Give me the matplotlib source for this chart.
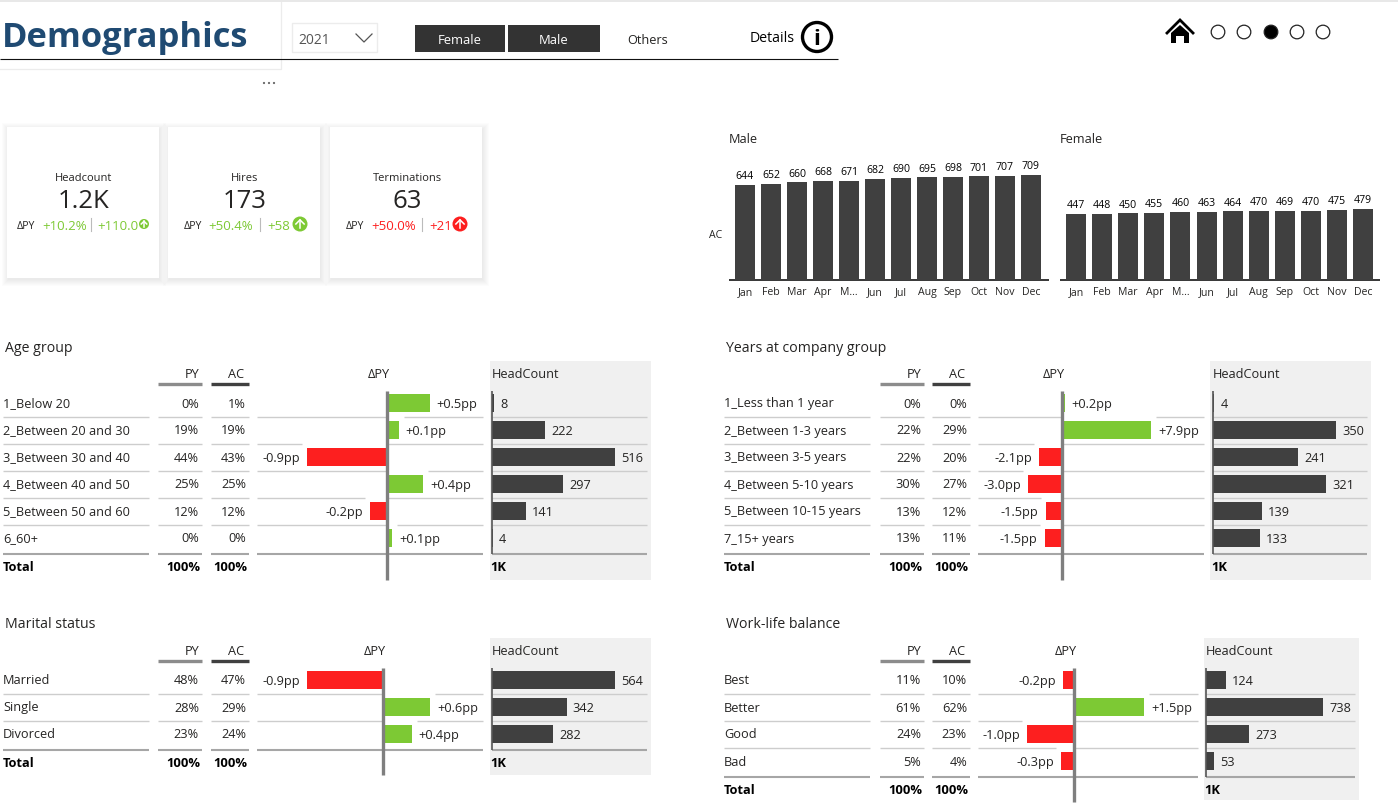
import matplotlib
matplotlib.use("Agg")
import matplotlib.pyplot as plt
from matplotlib.patches import Rectangle, Circle, Polygon

plt.rcParams["font.family"] = ["Open Sans", "DejaVu Sans"]

W, H = 1398, 811
TXT = "#252423"
GREEN = "#7dc934"
RED = "#fd1f1f"
DARK = "#404040"
GREY = "#8c8c8c"

months = ["Jan", "Feb", "Mar", "Apr", "M...", "Jun", "Jul", "Aug", "Sep", "Oct", "Nov", "Dec"]
male = [644, 652, 660, 668, 671, 682, 690, 695, 698, 701, 707, 709]
female = [447, 448, 450, 455, 460, 463, 464, 470, 469, 470, 475, 479]

kpi_names = ["Headcount", "Hires", "Terminations"]
kpi_values = ["1.2K", "173", "63"]
kpi_pct = ["+10.2%", "+50.4%", "+50.0%"]
kpi_abs = ["+110.0", "+58", "+21"]

age_labels = ["1_Below 20", "2_Between 20 and 30", "3_Between 30 and 40", "4_Between 40 and 50", "5_Between 50 and 60", "6_60+"]
age_py = ["0%", "19%", "44%", "25%", "12%", "0%"]
age_ac = ["1%", "19%", "43%", "25%", "12%", "0%"]
age_delta = [0.48, 0.13, -0.90, 0.41, -0.19, 0.06]
age_delta_txt = ["+0.5pp", "+0.1pp", "-0.9pp", "+0.4pp", "-0.2pp", "+0.1pp"]
age_head = [8, 222, 516, 297, 141, 4]

years_labels = ["1_Less than 1 year", "2_Between 1-3 years", "3_Between 3-5 years", "4_Between 5-10 years", "5_Between 10-15 years", "7_15+ years"]
years_py = ["0%", "22%", "22%", "30%", "13%", "13%"]
years_ac = ["0%", "29%", "20%", "27%", "12%", "11%"]
years_delta = [0.24, 7.9, -2.05, -3.0, -1.45, -1.55]
years_delta_txt = ["+0.2pp", "+7.9pp", "-2.1pp", "-3.0pp", "-1.5pp", "-1.5pp"]
years_head = [4, 350, 241, 321, 139, 133]

marital_labels = ["Married", "Single", "Divorced"]
marital_py = ["48%", "28%", "23%"]
marital_ac = ["47%", "29%", "24%"]
marital_delta = [-0.95, 0.59, 0.36]
marital_delta_txt = ["-0.9pp", "+0.6pp", "+0.4pp"]
marital_head = [564, 342, 282]

balance_labels = ["Best", "Better", "Good", "Bad"]
balance_py = ["11%", "61%", "24%", "5%"]
balance_ac = ["10%", "62%", "23%", "4%"]
balance_delta = [-0.24, 1.5, -1.0, -0.28]
balance_delta_txt = ["-0.2pp", "+1.5pp", "-1.0pp", "-0.3pp"]
balance_head = [124, 738, 273, 53]


fig = plt.figure(figsize=(W / 100, H / 100), dpi=100, facecolor="white")
bg = fig.add_axes([0, 0, 1, 1], zorder=0)
bg.set_xlim(0, W); bg.set_ylim(H, 0); bg.axis("off")
top = fig.add_axes([0, 0, 1, 1], zorder=5)
top.set_xlim(0, W); top.set_ylim(H, 0); top.axis("off")


def px_axes(x0, y0, x1, y1):
    ax = fig.add_axes([x0 / W, 1 - y1 / H, (x1 - x0) / W, (y1 - y0) / H], zorder=3)
    ax.patch.set_alpha(0)
    ax.axis("off")
    return ax


def hline(x0, x1, y, color="#c9c9c9", lw=1.0, axis=bg):
    axis.plot([x0, x1], [y, y], color=color, lw=lw, solid_capstyle="butt")


def put(x, y, s, size=9.2, ha="left", **kw):
    kw.setdefault("color", TXT)
    bg.text(x, y, s, fontsize=size, ha=ha, va="center_baseline", **kw)


# header strip
bg.add_patch(Rectangle((0, 0), W, 2, color="#e8e8e8", lw=0))
bg.plot([0, 281, 281], [69, 69, 2], color="#ececec", lw=0.9)
put(2, 34, "Demographics", size=24.8, color="#1f4a72", fontweight="bold")
hline(0, 838, 58.5, color="#111111", lw=0.8)
bg.add_patch(Rectangle((292, 23), 85, 29, fc="white", ec="#ececec", lw=1))
put(298, 39, "2021", size=10, color="#555555")
bg.plot([356, 364, 372], [34, 42, 34], color="#555555", lw=0.9)
for x0, x1, name in [(415, 505, "Female"), (508, 600, "Male")]:
    bg.add_patch(Rectangle((x0, 25), x1 - x0, 27, color="#333333", lw=0))
    put((x0 + x1) / 2, 39, name, ha="center", color="white", size=9.4)
put(648, 39, "Others", ha="center", size=9.2)
put(750, 37, "Details", size=10.2, color="black")
bg.add_patch(Circle((817, 37), 14.5, fc="white", ec="black", lw=2.4))
put(817, 37, "i", ha="center", size=16, color="black", fontweight="bold")
for x in [264, 269, 274]:
    bg.add_patch(Circle((x, 83), 1.1, color="#666666", lw=0))

# home icon and page dots
bg.plot([1167, 1180, 1193], [33, 20, 33], color="black", lw=2, solid_joinstyle="miter")
bg.add_patch(Polygon([(1171, 33), (1180, 25), (1189, 33), (1189, 43), (1184, 43), (1184, 36),
                      (1176, 36), (1176, 43), (1171, 43)], color="black", lw=0))
for i, x in enumerate([1218, 1244, 1271, 1297, 1323]):
    bg.add_patch(Circle((x, 32), 6.8, fc="black" if i == 2 else "white", ec="#222222", lw=0.9))

# kpi cards
card_x = [7, 168, 330]
pct_x = [42, 208, 371]
sep_x = [91, 260, 422]
abs_x = [97, 267, 429]
dpy_x = [17, 184, 346]
icon_x = [144, 300, 460]
icon_r = [5, 7.5, 7.5]
kpi_col = [GREEN, GREEN, RED]
for i in range(3):
    x = card_x[i]
    for k in range(1, 8):
        bg.add_patch(Rectangle((x - k + 2, 127 - k + 3), 152 + 2 * k - 2, 151 + 2 * k - 2, color="black", alpha=0.011, lw=0))
    bg.add_patch(Rectangle((x, 127), 152, 151, color="white", lw=0))
    cx = x + 77
    put(cx, 177, kpi_names[i], ha="center", size=8)
    put(cx, 199, kpi_values[i], ha="center", size=18.5)
    put(dpy_x[i], 225, "\u0394PY", size=7.6)
    put(pct_x[i], 225, kpi_pct[i], size=9.5, color=kpi_col[i])
    bg.plot([sep_x[i]] * 2, [218, 231], color="#bbbbbb", lw=0.8)
    put(abs_x[i], 225, kpi_abs[i], size=9.5, color=kpi_col[i])
    bg.add_patch(Circle((icon_x[i], 224), icon_r[i], color=kpi_col[i], lw=0))
    r = icon_r[i] * 0.55
    bg.plot([icon_x[i], icon_x[i]], [224 + r, 224 - r], color="white", lw=1.1)
    bg.plot([icon_x[i] - r, icon_x[i], icon_x[i] + r], [224, 224 - r, 224], color="white", lw=1.1)


# monthly columns
def month_chart(values, title, x0, x1, first_c, step):
    put(x0, 138, title, size=9.2)
    ax = px_axes(x0, 160, x1, 280)
    ax.set_xlim((x0 - first_c) / step, (x1 - first_c) / step)
    ax.set_ylim(0, 120 / 0.1478)
    bars = ax.bar(range(len(values)), values, width=20 / step, color=DARK)
    ax.bar_label(bars, padding=2, fontsize=7.6, color="black")
    hline(x0, x1, 280, color="black", lw=1.1)
    for i, m in enumerate(months):
        put(first_c + i * step, 291, m, ha="center", size=7.6)


month_chart(male, "Male", 729, 1049, 745, 26)
month_chart(female, "Female", 1060, 1380, 1076, 26.1)
put(709, 234, "AC", size=7.6)


def table(title, labels, py, ac, delta, delta_txt, head, x_left, col_py, col_ac, col_d, zero, d_scale,
          head_box, head_zero, h_scale, y_first, axis_end, box_bottom):
    y_head = y_first - 30
    n = len(labels)
    rows = [y_first + i * 27 for i in range(n)]
    y_total = rows[-1] + 28
    put(x_left + 2, y_head - 27, title, size=10.2)
    bg.add_patch(Rectangle((head_box[0], y_head - 12), head_box[1] - head_box[0], box_bottom - y_head + 12, color="#f0f0f0", lw=0))
    put(col_py[1] - 3, y_head, "PY", ha="right")
    put(col_ac[1] - 5, y_head, "AC", ha="right")
    put(zero - 8, y_head, "\u0394PY", ha="center")
    put(head_zero, y_head, "HeadCount")
    hline(col_py[0], col_py[1], y_head + 11, color=GREY, lw=2.4)
    hline(col_ac[0], col_ac[1], y_head + 11, color=DARK, lw=2.4)
    for i, y in enumerate(rows):
        put(x_left, y - 0.5, labels[i])
        put(col_py[1] - 3, y - 0.5, py[i], ha="right")
        put(col_ac[1] - 3, y - 0.5, ac[i], ha="right")
        last = i == n - 1
        line_y = y + (16 if last else 13.5)
        line_col = "#a6a6a6" if last else "#cdcdcd"
        line_w = 1.5 if last else 1.0
        for a, b in [(x_left, x_left + 146), col_py, col_ac, (head_zero, head_box[1] - 4)]:
            hline(a, b, line_y, color=line_col, lw=line_w)
        # the delta rule stops where the next row's bar box starts
        if last:
            hline(col_d[0], col_d[1], line_y, color=line_col, lw=line_w)
        else:
            end = zero + delta[i + 1] * d_scale
            gap = (end - 5, zero) if delta[i + 1] < 0 else (zero, end + 5)
            hline(col_d[0], gap[0], line_y, color=line_col, lw=line_w)
            hline(gap[1], col_d[1], line_y, color=line_col, lw=line_w)
    put(x_left, y_total, "Total", fontweight="bold", color="black", size=9.2)
    put(col_py[1] - 2, y_total, "100%", ha="right", fontweight="bold", color="black", size=9.4)
    put(col_ac[1] - 2, y_total, "100%", ha="right", fontweight="bold", color="black", size=9.4)
    put(head_zero - 2, y_total, "1K", fontweight="bold", color="black", size=9.4)

    y0, y1 = rows[0] - 13.5, rows[-1] + 13.5
    ax = px_axes(col_d[0], y0, col_d[1], y1)
    ax.set_xlim((col_d[0] - zero) / d_scale, (col_d[1] - zero) / d_scale)
    ax.set_ylim(n - 0.5, -0.5)
    bars = ax.barh(range(n), delta, height=0.7, color=[GREEN if v > 0 else RED for v in delta])
    for t in ax.bar_label(bars, labels=delta_txt, padding=5, fontsize=9.2, color=TXT):
        t.set_va("center_baseline")
    top.plot([zero, zero], [y0 + 1, axis_end], color="#7f7f7f", lw=2.4, solid_capstyle="butt")

    ax = px_axes(head_zero, y0, head_box[1], y1)
    ax.set_xlim(0, (head_box[1] - head_zero) / h_scale)
    ax.set_ylim(n - 0.5, -0.5)
    bars = ax.barh(range(n), head, height=0.7, color=DARK)
    for t in ax.bar_label(bars, padding=4.5, fontsize=9.2, color=TXT):
        t.set_va("center_baseline")
    top.plot([head_zero, head_zero], [y0 + 1, y1 + 2], color="#555555", lw=1.2, solid_capstyle="butt")


table("Age group", age_labels, age_py, age_ac, age_delta, age_delta_txt, age_head, 3, (158, 202), (211, 249),
      (257, 483), 387, 88.9, (490, 651), 492, 0.2384, 403, 580, 580)
table("Years at company group", years_labels, years_py, years_ac, years_delta, years_delta_txt, years_head, 724,
      (880, 924), (932, 970), (978, 1204), 1062, 11.27, (1210, 1371), 1213, 0.3514, 403, 580, 580)
table("Marital status", marital_labels, marital_py, marital_ac, marital_delta, marital_delta_txt, marital_head, 3,
      (158, 202), (211, 249), (257, 483), 383, 80, (490, 651), 492, 0.218, 680, 775, 775)
table("Work-life balance", balance_labels, balance_py, balance_ac, balance_delta, balance_delta_txt, balance_head, 724,
      (880, 924), (932, 970), (978, 1198), 1074, 46.7, (1204, 1359), 1206, 0.1585, 680, 802, 800)

fig.savefig("out.png", dpi=100)
